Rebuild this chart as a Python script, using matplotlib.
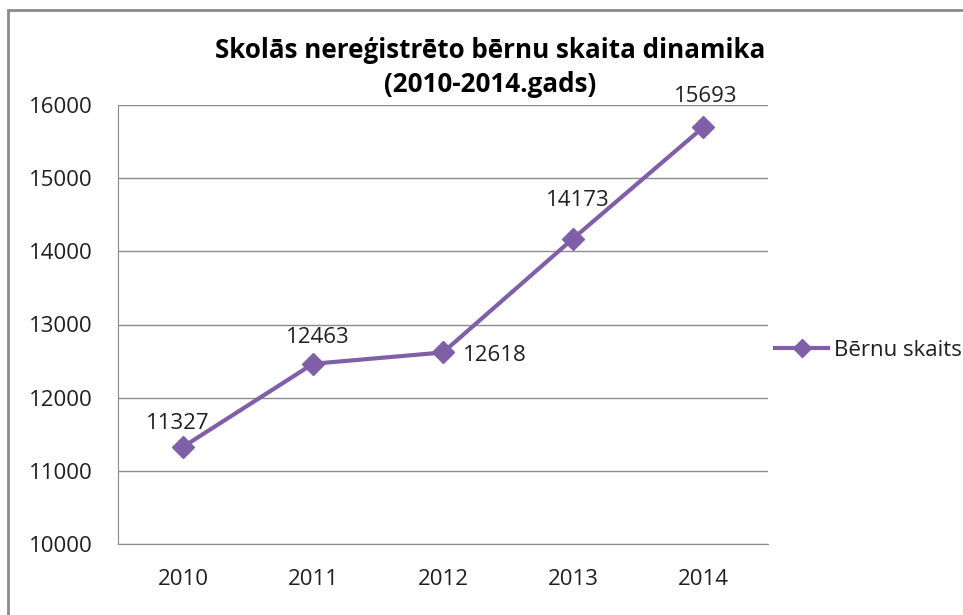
import matplotlib.pyplot as plt
from matplotlib.patches import Rectangle

years = ['2010', '2011', '2012', '2013', '2014']
children = [11327, 12463, 12618, 14173, 15693]
series_name = 'Bērnu skaits'
title_lines = ['Skolās nereģistrēto bērnu skaita dinamika', '(2010-2014.gads)']

plt.rcParams['font.family'] = ['Open Sans', 'DejaVu Sans']

purple = '#7F60A8'
grid_col = '#8C8C8C'
text_col = '#1F1F1F'


def main():
    fig = plt.figure(figsize=(9.63, 6.15), dpi=100)
    # outer chart border (only top/left visible in the crop)
    fig.patches.append(Rectangle((8 / 963, -0.1), 1.2, 1 - 10 / 615 + 0.1,
                                 transform=fig.transFigure, fill=False,
                                 edgecolor='#8A8A8A', linewidth=2))

    ax = fig.add_axes([118 / 963, 71 / 615, 650 / 963, 439 / 615])
    x = list(range(len(years)))
    line, = ax.plot(x, children, color=purple, linewidth=3, marker='D',
                    markersize=11, label=series_name)

    ax.set_xlim(-0.5, len(years) - 0.5)
    ax.set_ylim(10000, 16000)
    ax.set_yticks(range(10000, 16001, 1000))
    ax.set_xticks(x)
    ax.set_xticklabels(years)
    ax.tick_params(length=0, labelsize=16, colors=text_col)
    ax.tick_params(axis='x', pad=18)
    ax.tick_params(axis='y', pad=18)
    ax.grid(axis='y', color=grid_col, linewidth=1)
    ax.set_axisbelow(True)
    for side in ['top', 'right']:
        ax.spines[side].set_visible(False)
    for side in ['left', 'bottom']:
        ax.spines[side].set_color(grid_col)

    # label offsets in points
    offsets = [(-3.6, 16.6), (3.6, 18.7), (37.4, -2.2), (3.6, 27.4), (2.2, 22.3)]
    for xi, v, off in zip(x, children, offsets):
        ax.annotate(str(v), (xi, v), xytext=off, textcoords='offset points',
                    ha='center', va='center', fontsize=16, color=text_col)

    fig.text(490 / 963, 1 - 50 / 615, title_lines[0], ha='center', va='center',
             fontsize=18.7, fontweight='bold', color='black')
    fig.text(490 / 963, 1 - 85 / 615, title_lines[1], ha='center', va='center',
             fontsize=18.7, fontweight='bold', color='black')

    fig.legend(handles=[line], loc='center left',
               bbox_to_anchor=(766 / 963, 1 - 350 / 615), frameon=False,
               fontsize=16, handlelength=2.4, handletextpad=0.25,
               borderaxespad=0, labelcolor=text_col, markerscale=0.85)

    fig.savefig('out.png', dpi=100, facecolor='white')


if __name__ == '__main__':
    main()
